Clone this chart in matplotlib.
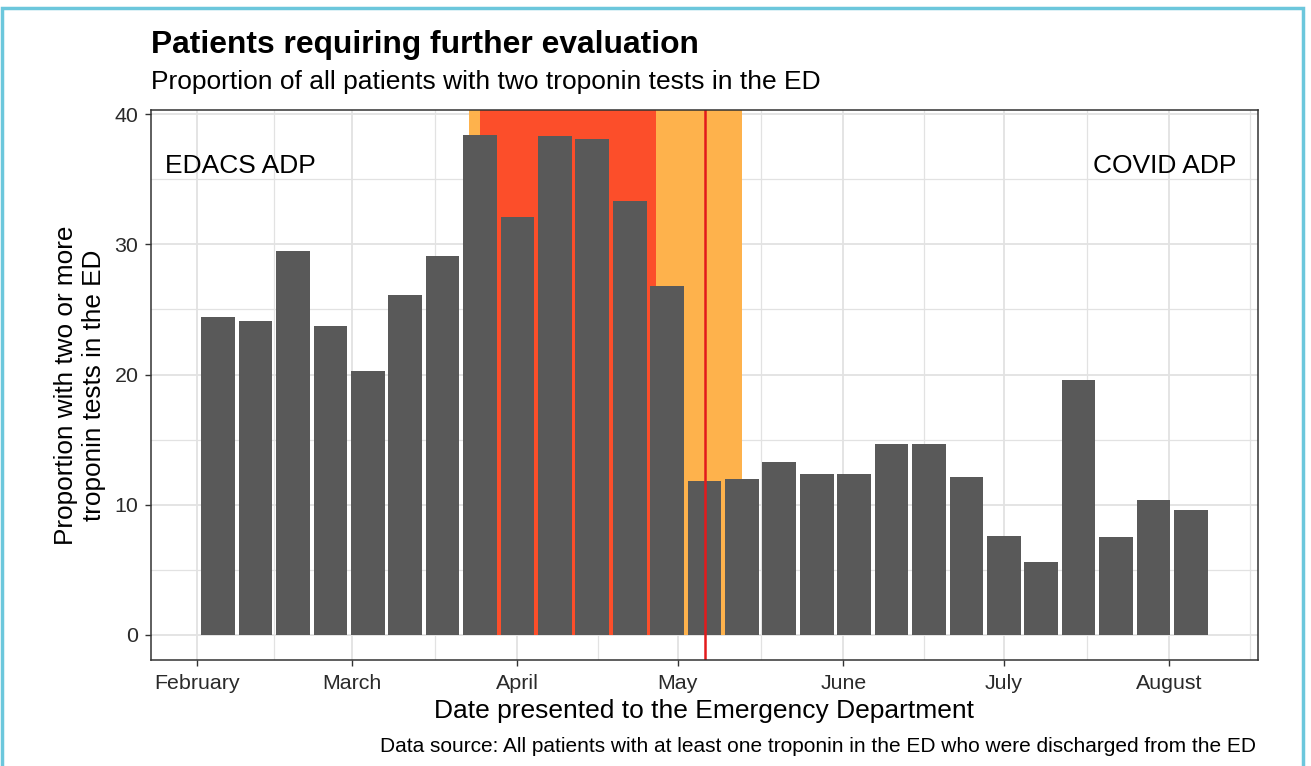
import pandas as pd
import matplotlib.pyplot as plt
import matplotlib.dates as mdates
from matplotlib.patches import Rectangle

plt.rcParams['font.family'] = ['Liberation Sans', 'DejaVu Sans']

# weekly bars, Feb - Aug 2020
weeks = pd.date_range('2020-02-05', periods=27, freq='7D')
proportion = [24.4, 24.1, 29.5, 23.7, 20.3, 26.1, 29.1, 38.4, 32.1, 38.3,
              38.1, 33.3, 26.8, 11.8, 12.0, 13.3, 12.4, 12.4, 14.7, 14.7,
              12.1, 7.6, 5.6, 19.6, 7.5, 10.4, 9.6]

orange_span = ['2020-03-23', '2020-05-13']
red_span = ['2020-03-25', '2020-04-27']
change_date = '2020-05-06'

month_ticks = pd.date_range('2020-02-01', '2020-08-01', freq='MS')
month_labels = [d.strftime('%B') for d in month_ticks]

grid_col = '#E2E2E2'
bar_col = '#595959'

fig = plt.figure(figsize=(13.11, 7.66), dpi=100)
ax = fig.add_axes([151 / 1311, 1 - 660 / 766, 1107 / 1311, 550 / 766])

# limits like ggplot expansion
x0 = mdates.date2num(weeks[0]) - 3.15
x1 = mdates.date2num(weeks[-1]) + 3.15
pad = (x1 - x0) * 0.05
ax.set_xlim(x0 - pad, x1 + pad)
ymax = max(proportion)
ax.set_ylim(-ymax * 0.05, ymax * 1.05)

# grid
maj = [mdates.date2num(d) for d in month_ticks]
minors = [(a + b) / 2 for a, b in zip(maj[:-1], maj[1:])] + [mdates.date2num(pd.Timestamp('2020-08-16'))]
for m in minors:
    ax.axvline(m, color=grid_col, lw=0.9, zorder=0)
for m in maj:
    ax.axvline(m, color=grid_col, lw=1.3, zorder=0)
for y in [5, 15, 25, 35]:
    ax.axhline(y, color=grid_col, lw=0.9, zorder=0)
for y in [0, 10, 20, 30, 40]:
    ax.axhline(y, color=grid_col, lw=1.3, zorder=0)

# lockdown periods
o0, o1 = mdates.date2num(pd.to_datetime(orange_span))
r0, r1 = mdates.date2num(pd.to_datetime(red_span))
ax.add_patch(Rectangle((o0, 0), o1 - o0, 100, color='#FEB24C', lw=0, zorder=1))
ax.add_patch(Rectangle((r0, 0), r1 - r0, 100, color='#FC4E2A', lw=0, zorder=1))

ax.bar(weeks, proportion, width=6.3, color=bar_col, zorder=2)
ax.axvline(pd.Timestamp(change_date), color='#E31A1C', lw=1.8, zorder=3)

ax.text(pd.Timestamp('2020-01-26'), 36, 'EDACS ADP', fontsize=19, va='center', ha='left', zorder=4)
ax.text(pd.Timestamp('2020-08-13 12:00'), 36, 'COVID ADP', fontsize=19, va='center', ha='right', zorder=4)

ax.set_xticks(month_ticks)
ax.set_xticklabels(month_labels)
ax.set_yticks([0, 10, 20, 30, 40])
ax.tick_params(labelsize=15.4, length=4, width=1, color='#333333', labelcolor='#2a2a2a')
ax.tick_params(axis='x', pad=6)
ax.tick_params(axis='y', pad=5)
for s in ax.spines.values():
    s.set_color('#333333')
    s.set_linewidth(1.1)
    s.set_zorder(5)

fig.text(151 / 1311, 1 - 53 / 766, 'Patients requiring further evaluation',
         fontsize=22.9, fontweight='bold', va='baseline', ha='left')
fig.text(151 / 1311, 1 - 89 / 766, 'Proportion of all patients with two troponin tests in the ED',
         fontsize=19, va='baseline', ha='left')
fig.text(704 / 1311, 1 - 718 / 766, 'Date presented to the Emergency Department',
         fontsize=19, va='baseline', ha='center')
fig.text(80 / 1311, 1 - 385 / 766, 'Proportion with two or more\ntroponin tests in the ED',
         fontsize=18.8, va='center', ha='center', rotation=90, multialignment='center',
         linespacing=1.22)
fig.text(1256 / 1311, 1 - 752 / 766,
         'Data source: All patients with at least one troponin in the ED who were discharged from the ED',
         fontsize=15.0, va='baseline', ha='right')

# blue frame
fig.patches.append(Rectangle((2 / 1311, -0.05), 1301 / 1311, 1.05 - 8 / 766, transform=fig.transFigure,
                             fill=False, edgecolor='#6CC7DC', lw=2.5))

fig.savefig('out.png', dpi=100)
